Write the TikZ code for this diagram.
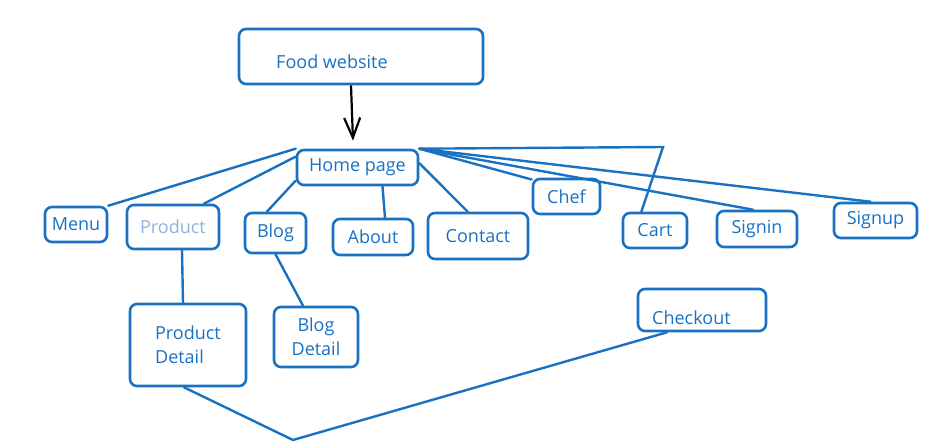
\documentclass[tikz,border=0pt]{standalone}
\usepackage{fontspec}
\setmainfont{Open Sans}
\usetikzlibrary{arrows.meta}
\definecolor{sketchblue}{HTML}{1971C2}
\definecolor{fadedblue}{HTML}{8FB0DB}
\tikzset{
  pagetext/.style={text=sketchblue,font=\fontsize{18}{24}\selectfont},
  page/.style={pagetext,draw=sketchblue,line width=2.6pt,rounded corners=7pt,inner sep=0pt},
  link/.style={draw=sketchblue,line width=2.4pt,line cap=round},
}

\begin{document}
\begin{tikzpicture}[x=1pt,y=-1pt]
  \useasboundingbox (0,0) rectangle (940,444);
  \node[page,minimum width=244pt,minimum height=55pt,
    label={[pagetext,anchor=west,xshift=35pt,yshift=-5.5pt]west:Food website}] (food) at (361,56.5) {};
  \foreach \n/\x/\y/\w/\h/\t in {home/357.5/167.5/121/35/Home page,
      menu/76/224.5/62/35/Menu, blog/275.5/233/61/40/Blog,
      about/373/237/80/36/About, contact/478/236/100/46/Contact,
      chef/566.5/196.5/67/35/Chef, cart/655/230.5/64/35/Cart,
      signin/757/229/80/36/Signin, signup/875.5/220.5/83/35/Signup}
    {\node[page,minimum width=\w pt,minimum height=\h pt] (\n) at (\x,\y) {\t};}
  \node[page,text=fadedblue,minimum width=92pt,minimum height=44pt] (product) at (173,227) {Product};
  \node[page,align=left,minimum width=116pt,minimum height=82pt] (pdetail) at (188,345) {Product\\Detail};
  \node[page,align=center,minimum width=84pt,minimum height=60pt] (bdetail) at (316,337) {Blog\\Detail};
  \node[page,minimum width=128pt,minimum height=42pt,
    label={[pagetext,anchor=west,xshift=12pt,yshift=-8pt]west:Checkout}] (checkout) at (702,310) {};
  \coordinate (cartbend) at (663,147);
  \coordinate (dip) at (293,440);

  % arrow into the home page
  \draw[-{Straight Barb[length=20pt,width=16pt]},line width=2.2pt] ([xshift=-10pt]food.south) -- ([xshift=-4.5pt,yshift=8pt]home.north);
  % home page links
  \draw[link] (home.north west) -- (menu.north east);
  \draw[link] (home.170) -- (product.37);
  \draw[link] (home.192) -- (blog.112);
  \draw[link] ([xshift=25pt]home.south) -- ([xshift=12pt]about.north);
  \draw[link] (home.4) -- (contact.113);
  \draw[link] (home.north east) -- (chef.154);
  \draw[link] (home.north east) -- (cartbend) -- (cart.126);
  \draw[link] (home.north east) -- ([xshift=-4pt]signin.north);
  \draw[link] (home.north east) -- ([xshift=-5pt]signup.north);
  % detail pages
  \draw[link] ([xshift=9pt]product.south) -- ([xshift=-5pt]pdetail.north);
  \draw[link] (blog.south) -- ([xshift=-13pt]bdetail.north);
  \draw[link] ([xshift=-4pt]pdetail.south) -- (dip) -- ([xshift=-35pt]checkout.south);
\end{tikzpicture}
\end{document}
